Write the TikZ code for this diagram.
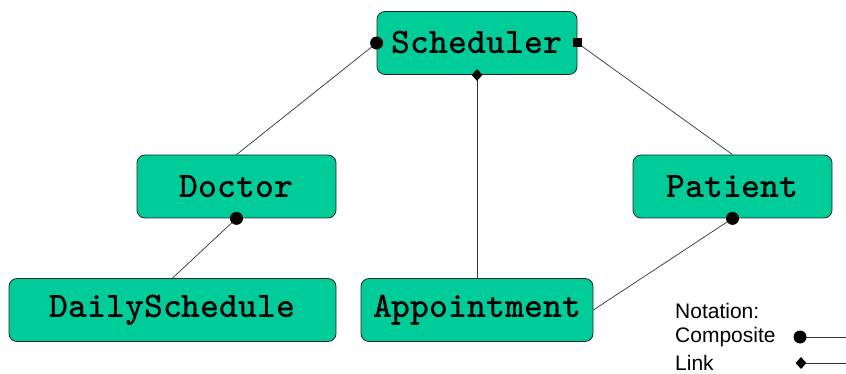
\documentclass[tikz,border=0pt]{standalone}
\usepackage{fontspec}
\setmainfont{Liberation Sans}
\usetikzlibrary{shapes.geometric}
\definecolor{boxgreen}{RGB}{0,204,153}
\tikzset{
  cls/.style={draw=black!85, line width=0.8pt, fill=boxgreen, rounded corners=8pt,
    minimum height=63pt, inner sep=0pt, font=\ttfamily\bfseries\fontsize{36}{36}\selectfont},
  conn/.style={draw=black!80, line width=0.7pt},
  legtext/.style={anchor=west, inner sep=0pt, font=\fontsize{21}{22}\selectfont},
  compdot/.style={fill=black},
  linkdia/.style={diamond, fill=black, inner sep=0pt, minimum width=11pt, minimum height=12pt},
  sqmark/.style={rectangle, fill=black, inner sep=0pt, minimum size=9pt}
}
\begin{document}
\begin{tikzpicture}[x=1pt,y=-1pt]
\useasboundingbox (0,0) rectangle (846,374);
\node[cls, minimum width=200pt] (sched) at (477,43) {Scheduler};
\node[cls, minimum width=199pt] (doc) at (236.5,186.5) {Doctor};
\node[cls, minimum width=199pt] (pat) at (732.5,186.5) {Patient};
\node[cls, minimum width=327pt] (daily) at (172.5,310) {DailySchedule};
\node[cls, minimum width=232pt] (appt) at (477,310) {Appointment};
% connectors
\draw[conn] (sched.west) -- (doc.north);
\draw[conn] (sched.east) -- (pat.north);
\draw[conn] (sched.south) -- (appt.north);
\draw[conn] (doc.south) -- (daily.north);
\draw[conn] (pat.south) -- (appt.east);
% markers
\fill[compdot] (sched.west) circle (6.5pt);
\node[sqmark] (sq) at (sched.east) {};
\node[linkdia] (dia) at (sched.south) {};
\fill[compdot] (doc.south) circle (6.5pt);
\fill[compdot] (pat.south) circle (6.5pt);
% legend
\node[legtext] (nota) at (675,311) {Notation:};
\node[legtext] (comp) at (675,337) {Composite};
\node[legtext] (link) at (675,363) {Link};
\coordinate (compdotc) at (800,337);
\coordinate (compend) at (846,337);
\coordinate (linkdiac) at (801,363);
\coordinate (linkend) at (846,363);
\draw[conn] (compdotc) -- (compend);
\draw[conn] (linkdiac) -- (linkend);
\fill[compdot] (compdotc) circle (6.5pt);
\node[linkdia] (legdia) at (linkdiac) {};
\end{tikzpicture}
\end{document}
